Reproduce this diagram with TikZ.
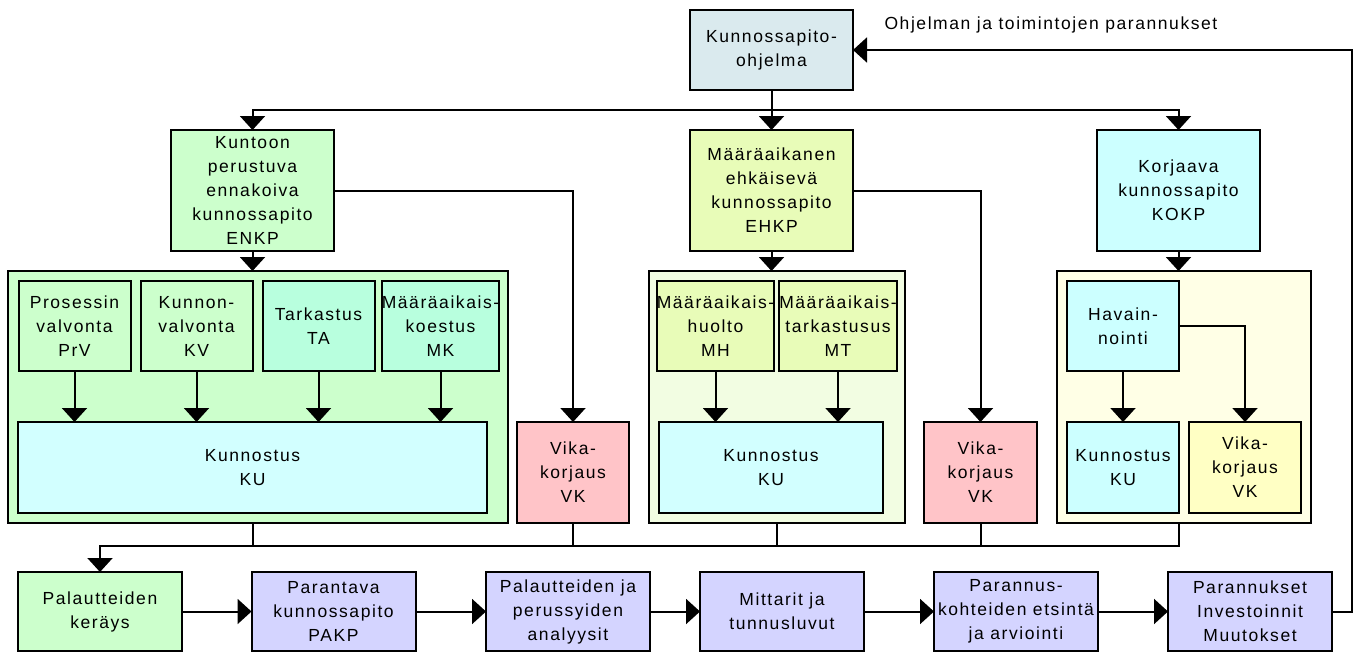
\documentclass[tikz,border=0pt]{standalone}
\usepackage{fontspec}
\setmainfont[LetterSpace=9]{Liberation Sans}
\usepackage{xcolor}
\usepackage{tikz}
\usetikzlibrary{arrows.meta}
\definecolor{ohjblue}{HTML}{DAEAEE}
\definecolor{enkpgreen}{HTML}{CCFFCC}
\definecolor{ehkpyellow}{HTML}{E8FCB8}
\definecolor{kokpcyan}{HTML}{CCFFFF}
\definecolor{mintgreen}{HTML}{B8FFDE}
\definecolor{kucyan}{HTML}{D2FFFF}
\definecolor{vkpink}{HTML}{FFC4C8}
\definecolor{vkyellow}{HTML}{FFFFC4}
\definecolor{ehkpbg}{HTML}{F2FDE2}
\definecolor{kokpbg}{HTML}{FFFFE6}
\definecolor{palalilac}{HTML}{D4D4FF}
\tikzset{
  box/.style={draw=black,line width=2pt,inner sep=0pt,outer sep=0pt,
              align=center,font=\fontsize{17.5}{24}\selectfont},
  group/.style={draw=black,line width=2pt,inner sep=0pt,outer sep=0pt},
  arr/.style={line width=2pt,-{Triangle[length=14pt,width=25pt]}},
  con/.style={line width=2pt}
}

\begin{document}
\begin{tikzpicture}[x=1pt,y=-1pt]
  \useasboundingbox (0,0) rectangle (1359,653);

  \node[box,fill=ohjblue,minimum width=163,minimum height=80] (ohjelma) at (771.5,50)
    {Kunnossapito-\\ohjelma};
  \node[anchor=west,font=\fontsize{17.5}{20}\selectfont] (parannuslabel) at (881,25)
    {Ohjelman ja toimintojen parannukset};

  \node[box,fill=enkpgreen,minimum width=163,minimum height=121] (enkp) at (252.5,190.5)
    {Kuntoon\\perustuva\\ennakoiva\\kunnossapito\\ENKP};
  \node[box,fill=ehkpyellow,minimum width=163,minimum height=121] (ehkp) at (771.5,190.5)
    {Määräaikanen\\ehkäisevä\\kunnossapito\\EHKP};
  \node[box,fill=kokpcyan,minimum width=163,minimum height=121] (kokp) at (1178.5,190.5)
    {Korjaava\\kunnossapito\\KOKP};

  \node[group,fill=enkpgreen,minimum width=500,minimum height=252] (c1) at (258,397) {};
  \node[group,fill=ehkpbg,minimum width=256,minimum height=252] (c2) at (777,397) {};
  \node[group,fill=kokpbg,minimum width=254,minimum height=252] (c3) at (1184,397) {};

  \node[box,fill=enkpgreen,minimum width=112,minimum height=90] (prv) at (74.5,326)
    {Prosessin\\valvonta\\PrV};
  \node[box,fill=enkpgreen,minimum width=112,minimum height=90] (kv) at (196.5,326)
    {Kunnon-\\valvonta\\KV};
  \node[box,fill=mintgreen,minimum width=112,minimum height=90] (ta) at (318.5,326)
    {Tarkastus\\TA};
  \node[box,fill=mintgreen,minimum width=112,minimum height=90] (mk) at (440.5,326)
    {Määräaikais-\\koestus\\MK};
  \node[box,fill=kucyan,minimum width=469,minimum height=91] (ku1) at (252.5,467.5)
    {Kunnostus\\KU};
  \node[box,fill=vkpink,minimum width=112,minimum height=101] (vk1) at (573,472.5)
    {Vika-\\korjaus\\VK};

  \node[box,fill=ehkpyellow,minimum width=113,minimum height=90] (mh) at (715.5,326)
    {Määräaikais-\\huolto\\MH};
  \node[box,fill=ehkpyellow,minimum width=113,minimum height=90] (mt) at (838,326)
    {Määräaikais-\\tarkastusus\\MT};
  \node[box,fill=kucyan,minimum width=224,minimum height=91] (ku2) at (771,467.5)
    {Kunnostus\\KU};
  \node[box,fill=vkpink,minimum width=113,minimum height=101] (vk2) at (980.5,472.5)
    {Vika-\\korjaus\\VK};

  \node[box,fill=kokpcyan,minimum width=112,minimum height=90] (hav) at (1123,326)
    {Havain-\\nointi};
  \node[box,fill=kokpcyan,minimum width=112,minimum height=91] (ku3) at (1123,467.5)
    {Kunnostus\\KU};
  \node[box,fill=vkyellow,minimum width=112,minimum height=91] (vk3) at (1245,467.5)
    {Vika-\\korjaus\\VK};

  \node[box,fill=enkpgreen,minimum width=164,minimum height=79] (kerays) at (100,611.5)
    {Palautteiden\\keräys};
  \node[box,fill=palalilac,minimum width=164,minimum height=79] (pakp) at (333.5,611.5)
    {Parantava\\kunnossapito\\PAKP};
  \node[box,fill=palalilac,minimum width=164,minimum height=79] (analyysit) at (568,611.5)
    {Palautteiden ja\\perussyiden\\analyysit};
  \node[box,fill=palalilac,minimum width=164,minimum height=79] (mittarit) at (782,611.5)
    {Mittarit ja\\tunnusluvut};
  \node[box,fill=palalilac,minimum width=164,minimum height=79] (kohteet) at (1016,611.5)
    {Parannus-\\kohteiden etsintä\\ja arviointi};
  \node[box,fill=palalilac,minimum width=164,minimum height=79] (muutokset) at (1250,611.5)
    {Parannukset\\Investoinnit\\Muutokset};

  \coordinate (jako) at (0,110);
  \coordinate (kerays bus) at (0,546);

  \draw[con] (ohjelma.south) -- (ohjelma.south |- jako);
  \draw[arr] (ohjelma.south |- jako) -| (enkp.north);
  \draw[arr] (ohjelma.south |- jako) -- (ehkp.north);
  \draw[arr] (ohjelma.south |- jako) -| (kokp.north);

  \draw[arr] (enkp.south) -- (enkp.south |- c1.north);
  \draw[arr] (ehkp.south) -- (ehkp.south |- c2.north);
  \draw[arr] (kokp.south) -- (kokp.south |- c3.north);
  \draw[arr] (enkp.east) -| (vk1.north);
  \draw[arr] (ehkp.east) -| (vk2.north);

  \foreach \n in {prv,kv,ta,mk}
    \draw[arr] (\n.south) -- (\n.south |- ku1.north);
  \foreach \n in {mh,mt}
    \draw[arr] (\n.south) -- (\n.south |- ku2.north);
  \draw[arr] (hav.south) -- (hav.south |- ku3.north);
  \draw[arr] (hav.east) -| (vk3.north);

  \draw[arr] (kokp.south |- c3.south) |- (kerays.north |- kerays bus) -- (kerays.north);
  \draw[con] (enkp.south |- c1.south) -- (enkp.south |- kerays bus);
  \draw[con] (vk1.south) -- (vk1.south |- kerays bus);
  \draw[con] (c2.south) -- (c2.south |- kerays bus);
  \draw[con] (vk2.south) -- (vk2.south |- kerays bus);

  \draw[arr] (kerays) -- (pakp);
  \draw[arr] (pakp) -- (analyysit);
  \draw[arr] (analyysit) -- (mittarit);
  \draw[arr] (mittarit) -- (kohteet);
  \draw[arr] (kohteet) -- (muutokset);
  \draw[arr] (muutokset.east) -| ([xshift=20pt]muutokset.east |- ohjelma.east) -- (ohjelma.east);
\end{tikzpicture}
\end{document}
